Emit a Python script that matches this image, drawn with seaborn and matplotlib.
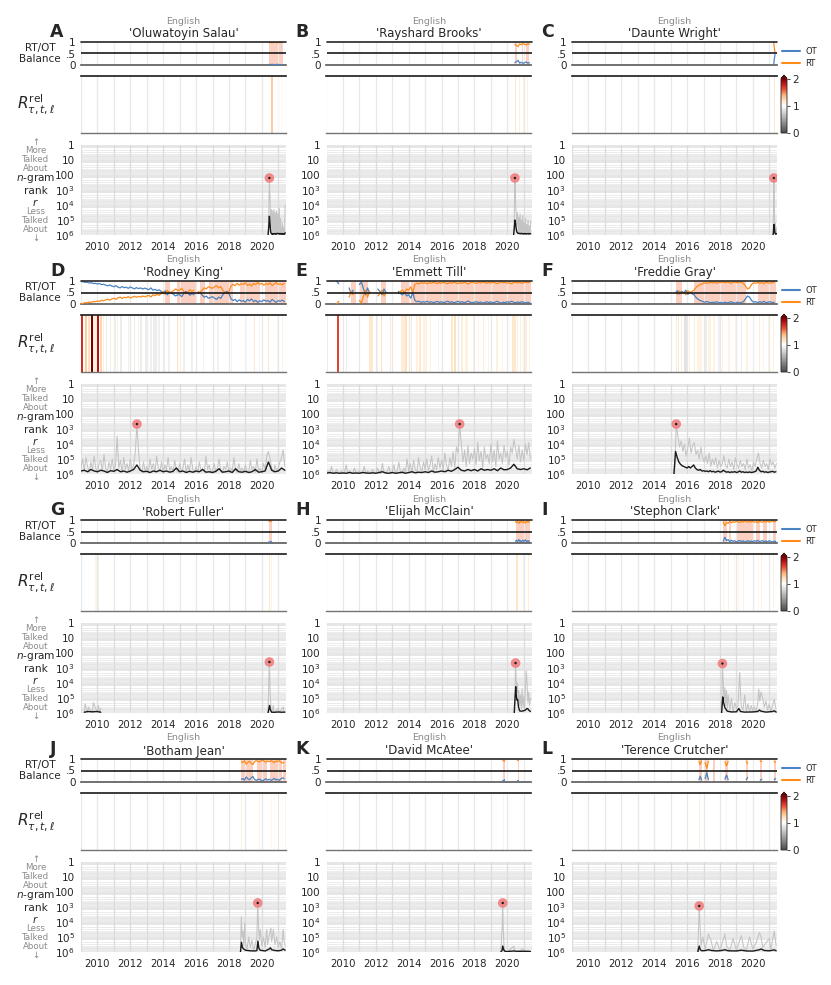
# %% ---- Requirements and constants
import numpy as np
import seaborn as sns
import matplotlib.pyplot as plt
from matplotlib.colors import LinearSegmentedColormap, Normalize
from matplotlib.cm import ScalarMappable
from matplotlib.lines import Line2D

nan = np.nan

names = ['Oluwatoyin Salau', 'Rayshard Brooks', 'Daunte Wright',
         'Rodney King', 'Emmett Till', 'Freddie Gray',
         'Robert Fuller', 'Elijah McClain', 'Stephon Clark',
         'Botham Jean', 'David McAtee', 'Terence Crutcher']
letters = list('ABCDEFGHIJKL')

# peak of the daily rank (red dot): date and log10 rank
peak_t = [2020.46, 2020.46, 2021.28, 2012.4, 2017.1, 2015.34,
          2020.46, 2020.50, 2018.15, 2019.75, 2019.72, 2016.74]
peak_r = [2.2, 2.2, 2.2, 2.67, 2.67, 2.67, 2.6, 2.67, 2.7, 2.73, 2.73, 2.93]

# daily rank (gray), log10 rank. time is (start, step) or explicit dates
gray_t = [
    (2020.38, 0.04), (2020.38, 0.04), (2021.22, 0.03),
    (2009.0, 0.1), (2009.0, 0.1), (2015.24, 0.1),
    [2009.2, 2009.25, 2009.4, 2009.45, 2009.7, 2009.75, 2010.0, 2010.05, 2010.15, 2010.2, nan,
     2020.38, 2020.42, 2020.46, 2020.5, 2020.55, 2020.6, 2020.7, 2020.75, 2021.0, 2021.05, 2021.3, 2021.35],
    [2020.42, 2020.47, 2020.5, 2020.54, 2020.58, 2020.62, 2020.66, 2020.7, 2020.75, 2020.8, 2020.85,
     2020.9, 2020.95, 2021.0, 2021.05, 2021.1, 2021.15, 2021.2, 2021.25, 2021.3, 2021.35, 2021.4],
    [2018.1, 2018.15, 2018.2, 2018.25, 2018.3, 2018.35, 2018.4, 2018.45, 2018.5, 2018.6,
     2018.7, 2018.8, 2018.9, 2019.0, 2019.1, 2019.2, 2019.25, 2019.3, 2019.4, 2019.5,
     2019.6, 2019.7, 2019.8, 2019.9, 2020.0, 2020.1, 2020.2, 2020.3, 2020.36, 2020.42,
     2020.5, 2020.6, 2020.7, 2020.8, 2020.9, 2021.0, 2021.1, 2021.2, 2021.3, 2021.4],
    [2018.7, 2018.75, 2018.8, 2018.85, 2018.9, 2018.95, 2019.0, 2019.1, 2019.2, 2019.3,
     2019.4, 2019.5, 2019.6, 2019.7, 2019.75, 2019.8, 2019.85, 2019.9, 2020.0, 2020.1,
     2020.2, 2020.3, 2020.35, 2020.45, 2020.55, 2020.6, 2020.7, 2020.8, 2020.9, 2021.0,
     2021.1, 2021.2, 2021.3, 2021.35, 2021.42],
    [2019.6, 2019.68, 2019.72, 2019.76, 2019.82, 2020.0, 2020.4, 2020.45, 2020.5, 2021.0, 2021.05, 2021.1],
    [2016.65, 2016.74, 2016.8, 2016.85, 2016.95, 2017.1, 2017.3, 2017.45, 2017.6, 2017.8,
     2018.0, 2018.3, 2018.4, 2018.6, 2018.8, 2019.0, 2019.3, 2019.45, 2019.6, 2019.8,
     2020.0, 2020.2, 2020.4, 2020.5, 2020.6, 2020.8, 2021.0, 2021.1, 2021.3, 2021.42],
]
gray_r = [
    [6, 4.5, 2.2, 3.6, 5.5, 4.3, 5.9, 4.4, 5.8, 4.3, 6, 4.5, 5.9, 4.4, 6, 4.6, 5.8, 4.2, 6, 4.9,
     5.9, 6, 5.2, 6, 5.5, 6, 4.0],
    [6, 5.0, 2.2, 3.8, 4.6, 5.3, 4.5, 5.8, 4.8, 5.9, 4.6, 6, 5.0, 5.8, 4.7, 6, 5.2, 5.9, 4.9, 6,
     5.3, 5.8, 5.0, 6, 5.4, 5.9, 5.1],
    [6, 5.0, 2.2, 4.5, 5.8, 5.2, 6, 5.5],
    [5.6, 5.0, 5.8, 4.9, 5.5, 5.9, 5.2, 5.7, 4.8, 5.6,
     5.9, 5.3, 5.1, 5.8, 4.7, 5.6, 5.9, 5.2, 5.7, 5.0,
     5.8, 5.4, 3.5, 5.6, 5.1, 5.9, 4.9, 5.7, 5.3, 5.8,
     5.0, 5.7, 5.4, 4.6, 2.67, 4.5, 5.6, 5.9, 5.2, 5.8,
     5.5, 5.9, 5.0, 5.7, 5.3, 5.9, 4.8, 5.6, 5.8, 5.2,
     5.9, 5.4, 5.7, 4.9, 5.8, 5.5, 5.9, 5.1, 5.7, 5.9,
     5.3, 5.8, 5.6, 5.0, 5.9, 5.4, 5.8, 4.9, 5.7, 5.9,
     5.5, 5.9, 5.2, 5.8, 5.6, 5.9, 4.8, 5.7, 5.4, 5.9,
     5.8, 5.3, 5.9, 5.6, 5.0, 5.8, 5.9, 5.5, 5.7, 5.2,
     5.9, 5.6, 5.8, 4.9, 5.7, 5.9, 5.3, 5.8, 5.6, 5.9,
     5.4, 5.8, 5.9, 5.1, 5.7, 5.5, 5.9, 5.0, 5.8, 5.6,
     5.9, 5.3, 5.7, 4.8, 4.5, 5.0, 5.6, 5.9, 5.4, 5.8,
     5.6, 5.2, 4.9, 4.4, 5.5],
    [5.9, 5.8, 6.0, 5.5, 5.9, 6.0, 5.7, 5.9, 6.0, 5.8,
     6.0, 5.9, 5.4, 6.0, 5.8, 5.9, 6.0, 5.6, 5.9, 6.0,
     5.8, 6.0, 5.9, 5.5, 6.0, 5.8, 5.9, 6.0, 5.7, 5.9,
     6.0, 5.6, 5.9, 6.0, 5.3, 5.9, 6.0, 5.8, 5.5, 6.0,
     5.9, 5.4, 6.0, 5.8, 5.2, 5.9, 6.0, 5.6, 5.9, 5.0,
     5.8, 5.3, 5.9, 5.1, 5.7, 5.9, 4.9, 5.6, 5.8, 5.2,
     5.7, 5.0, 5.8, 5.4, 4.8, 5.9, 5.3, 5.7, 4.9, 5.6,
     5.1, 5.7, 4.6, 5.4, 5.8, 4.9, 5.5, 4.5, 5.6, 4.2,
     4.6, 2.67, 4.0, 5.2, 4.4, 5.5, 4.1, 5.3, 4.6, 5.0,
     4.3, 5.4, 3.9, 5.1, 4.5, 5.6, 4.2, 5.0, 4.7, 5.3,
     4.0, 5.2, 4.4, 5.5, 3.8, 5.0, 4.6, 5.3, 4.1, 4.9,
     4.5, 5.4, 4.2, 4.6, 3.7, 4.3, 5.0, 4.1, 5.2, 4.4,
     5.1, 4.0, 4.7, 3.9, 5.0],
    [6.0, 2.67, 3.5, 4.2, 3.8, 4.5, 4.0, 4.8, 4.3, 3.6,
     4.6, 4.1, 3.9, 4.7, 4.4, 5.0, 4.2, 4.9, 5.2, 4.8,
     5.3, 4.6, 5.5, 5.0, 5.4, 4.9, 5.6, 5.1, 5.5, 5.3,
     4.8, 5.4, 5.6, 5.0, 5.5, 5.2, 5.7, 4.9, 5.4, 5.6,
     5.1, 5.5, 5.3, 5.7, 5.0, 5.6, 5.4, 5.8, 5.2, 5.5,
     5.0, 4.6, 5.3, 5.6, 5.1, 5.5, 5.3, 5.7, 5.0, 5.4,
     5.2, 5.6, 5.3],
    [6, 5.4, 6, 5.6, 6, 5.3, 6, 5.5, 6, 5.7, nan,
     6, 4.0, 2.6, 4.5, 5.6, 6, 5.5, 6, 5.7, 6, 5.6, 6],
    [6, 4.5, 2.67, 3.8, 4.6, 4.0, 5.2, 4.5, 5.5, 4.8, 5.7, 4.4, 5.6, 4.9, 5.8, 4.2, 3.2, 4.0,
     5.3, 4.6, 5.5, 5.0],
    [6, 2.7, 4.0, 5.2, 4.3, 5.5, 4.5, 5.7, 4.8, 5.8, 5.0, 5.9, 5.3, 5.7, 5.5, 3.3, 4.6, 5.6, 5.8, 4.8,
     5.9, 5.4, 5.9, 5.5, 5.9, 5.6, 5.9, 5.3, 4.4, 5.2, 4.6, 5.0, 5.6, 5.2, 5.8, 5.4, 5.9, 5.5, 5.1, 5.7],
    [6, 3.64, 5.0, 4.6, 5.6, 4.04, 5.4, 5.8, 5.0, 5.7, 5.2, 5.9, 5.5, 5.0, 2.73, 4.3, 5.2, 4.5, 5.6, 5.0,
     5.7, 4.5, 5.5, 4.9, 4.4, 5.3, 4.5, 5.5, 5.0, 5.7, 5.3, 5.8, 4.5, 5.2, 5.6],
    [6, 4.5, 2.73, 4.8, 6, 6, 5.6, 6, 6, 5.8, 6, 6],
    [6, 2.93, 4.5, 5.6, 5.0, 5.8, 4.8, 5.2, 5.9, 5.3, 5.9, 4.8, 5.6, 5.9, 5.1, 5.9, 4.9, 5.7, 5.9, 5.0,
     5.8, 5.4, 4.7, 5.0, 5.7, 5.4, 5.1, 5.8, 4.6, 5.6],
]

# smoothed rank (black), log10 rank
black_t = [
    (2020.38, 0.04), (2020.38, 0.04), (2021.22, 0.03),
    (2009.0, 0.2), (2009.0, 0.2), (2015.2, 0.1),
    [2009.2, 2009.4, 2009.7, 2010.0, 2010.2, nan, 2020.38, 2020.43, 2020.47, 2020.52, 2020.6,
     2020.8, 2021.0, 2021.2, 2021.4],
    [2020.42, 2020.47, 2020.51, 2020.55, 2020.59, 2020.63, 2020.68, 2020.75, 2020.85, 2021.0,
     2021.1, 2021.2, 2021.25, 2021.3, 2021.4],
    [2018.1, 2018.17, 2018.22, 2018.3, 2018.45, 2018.7, 2019.0, 2019.15, 2019.25, 2019.5,
     2020.0, 2020.3, 2020.4, 2020.5, 2020.8, 2021.2, 2021.3, 2021.42],
    [2018.7, 2018.76, 2018.82, 2018.9, 2019.0, 2019.3, 2019.6, 2019.7, 2019.76, 2019.82,
     2019.9, 2020.2, 2020.45, 2020.52, 2020.6, 2020.8, 2021.0, 2021.2, 2021.3, 2021.42],
    [2019.6, 2019.68, 2019.72, 2019.78, 2019.85, 2020.0, 2020.4, 2020.6, 2021.0, 2021.4],
    [2016.65, 2016.74, 2016.8, 2016.9, 2017.1, 2017.3, 2017.5, 2017.8, 2018.1, 2018.3,
     2018.5, 2019.0, 2019.3, 2019.6, 2020.0, 2020.4, 2020.5, 2020.7, 2021.0, 2021.3, 2021.42],
]
black_r = [
    [6, 5.5, 4.75, 5.3, 5.8, 5.9, 5.95, 5.9, 5.95, 5.9, 5.92, 5.9, 5.95, 5.92, 5.9, 5.88, 5.92,
     5.9, 5.95, 5.9, 5.92, 5.95, 5.9, 5.95, 5.93, 5.95, 5.85],
    [6, 5.6, 5.0, 5.2, 5.6, 5.8, 5.85, 5.9, 5.88, 5.9, 5.92, 5.9, 5.88, 5.92, 5.9, 5.93, 5.9,
     5.92, 5.9, 5.93, 5.9, 5.92, 5.9, 5.93, 5.92, 5.9, 5.92],
    [6, 5.9, 5.3, 5.5, 5.85, 5.9, 5.95, 5.9],
    [5.8, 5.75, 5.85, 5.7, 5.8, 5.85, 5.75, 5.8, 5.9, 5.78, 5.82, 5.7, 5.85, 5.8, 5.88,
     5.8, 5.7, 5.4, 5.75, 5.85, 5.82, 5.9, 5.8, 5.85, 5.75, 5.85, 5.8, 5.88, 5.82, 5.6,
     5.85, 5.8, 5.9, 5.82, 5.88, 5.8, 5.85, 5.7, 5.88, 5.85, 5.9, 5.82, 5.65, 5.88, 5.85,
     5.8, 5.9, 5.65, 5.85, 5.88, 5.82, 5.9, 5.85, 5.7, 5.88, 5.85, 5.8, 5.2, 5.75, 5.85,
     5.8, 5.6, 5.75],
    [5.95, 5.9, 5.95, 5.92, 5.95, 5.93, 5.95, 5.9, 5.95, 5.93, 5.95, 5.9, 5.93, 5.95, 5.92,
     5.95, 5.9, 5.85, 5.93, 5.95, 5.9, 5.95, 5.92, 5.88, 5.95, 5.9, 5.85, 5.92, 5.88, 5.9,
     5.85, 5.9, 5.8, 5.88, 5.85, 5.8, 5.85, 5.75, 5.82, 5.7, 5.55, 5.75, 5.8, 5.7, 5.78,
     5.7, 5.8, 5.65, 5.75, 5.7, 5.75, 5.65, 5.78, 5.6, 5.72, 5.7, 5.6, 5.35, 5.65, 5.7,
     5.65, 5.72, 5.6],
    [6.0, 4.5, 4.9, 5.2, 5.35, 5.45, 5.5, 5.55, 5.6, 5.5,
     5.6, 5.5, 5.4, 5.6, 5.7, 5.75, 5.7, 5.8, 5.78, 5.82,
     5.8, 5.85, 5.78, 5.85, 5.82, 5.88, 5.85, 5.8, 5.87, 5.85,
     5.75, 5.82, 5.88, 5.85, 5.9, 5.86, 5.88, 5.84, 5.9, 5.87,
     5.8, 5.88, 5.85, 5.9, 5.87, 5.9, 5.86, 5.9, 5.88, 5.85,
     5.8, 5.55, 5.75, 5.85, 5.82, 5.88, 5.85, 5.9, 5.87, 5.85,
     5.82, 5.88, 5.85],
    [5.95, 5.9, 5.92, 5.9, 5.95, nan, 6, 5.7, 5.5, 5.8, 5.95, 5.95, 5.93, 5.95, 5.94],
    [6, 5.0, 4.25, 4.9, 5.15, 5.1, 5.6, 5.86, 5.88, 5.85, 5.8, 5.7, 5.72, 5.8, 5.9],
    [6, 4.93, 5.3, 5.64, 5.88, 5.93, 5.92, 5.7, 5.9, 5.94, 5.93, 5.9, 5.8, 5.88, 5.94, 5.9, 5.85, 5.94],
    [6, 5.35, 5.7, 5.8, 5.88, 5.92, 5.93, 5.9, 5.27, 5.75, 5.88, 5.93, 5.8, 5.72, 5.85, 5.9, 5.92,
     5.88, 5.8, 5.88],
    [6, 5.9, 5.6, 5.85, 5.95, 5.97, 5.93, 5.96, 5.95, 5.96],
    [6, 5.6, 5.85, 5.92, 5.9, 5.85, 5.9, 5.93, 5.9, 5.85, 5.92, 5.93, 5.88, 5.93, 5.94, 5.85, 5.8,
     5.9, 5.92, 5.86, 5.92],
]

# share of retweets (RT); organic tweets OT = 1 - RT
bal_t = [
    (2020.45, 0.1), (2020.45, 0.1), [2021.27, 2021.31, 2021.35],
    (2009.0, 0.125), (2009.0, 0.125), (2015.3, 0.125),
    [2020.42, 2020.48, 2020.55, 2020.6], (2020.5, 0.05), (2018.2, 0.1),
    (2018.75, 0.1), [2019.72, 2019.78, 2019.84, nan, 2020.62, 2020.68],
    [2016.72, 2016.8, 2016.88, nan, 2017.1, 2017.2, 2017.3, nan, 2018.3, 2018.4, 2018.5, nan,
     2019.6, 2019.68, nan, 2020.45, 2020.55, nan, 2021.3, 2021.38],
]
bal_rt = [
    [0.97, 0.98, 0.97, 0.99, 0.98, 0.97, 0.98, 0.99, 0.98],
    [0.9, 0.85, 0.8, 0.92, 0.88, 0.93, 0.9, 0.87, 0.92, 0.9],
    [0.98, 0.72, 0.54],
    [0.02, 0.03, 0.06, 0.05, 0.09, 0.07, 0.11, 0.1,
     0.13, 0.11, 0.16, 0.14, 0.18, 0.21, 0.17, 0.22,
     0.25, 0.2, 0.27, 0.3, 0.24, 0.29, 0.27, 0.32,
     0.26, 0.3, 0.34, 0.29, 0.33, 0.3, 0.35, 0.31,
     0.34, 0.38, 0.3, 0.4, 0.36, 0.42, 0.38, 0.45,
     0.55, 0.42, 0.6, 0.48, 0.52, 0.58, 0.65, 0.6,
     0.6, 0.68, 0.55, 0.45, 0.52, 0.62, 0.55, 0.6,
     nan, 0.55, 0.48, 0.62, 0.7, 0.66, 0.75, 0.72,
     0.68, 0.75, 0.8, 0.7, 0.76, 0.6, 0.5, 0.45,
     0.55, 0.78, 0.85, 0.8, 0.9, 0.82, 0.88, 0.85,
     0.92, 0.8, 0.86, 0.78, 0.9, 0.84, 0.93, 0.86,
     0.9, 0.82, 0.88, 0.85, 0.92, 0.8, 0.87, 0.93,
     0.85, 0.88, 0.83, 0.9],
    [nan, nan, nan, nan, nan, 0.02, 0.12, nan,
     nan, nan, nan, 0.3, 0.55, 0.4, nan, nan,
     0.15, 0.05, 0.35, 0.6, 0.3, 0.55, nan, nan,
     nan, 0.35, 0.45, 0.6, 0.35, 0.5, nan, nan,
     nan, nan, nan, 0.45, 0.55, 0.6, 0.5, 0.65,
     0.6, 0.75, 0.5, 0.85, 0.9, 0.88, 0.93, 0.9,
     0.92, 0.88, 0.93, 0.9, 0.95, 0.91, 0.89, 0.93,
     0.9, 0.94, 0.91, 0.88, 0.93, 0.9, 0.95, 0.92,
     0.88, 0.93, 0.9, 0.94, 0.91, 0.87, 0.93, 0.95,
     0.92, 0.9, 0.94, 0.91, 0.96, 0.93, 0.9, 0.94,
     0.91, 0.95, 0.92, 0.88, 0.93, 0.96, 0.92, 0.94,
     0.9, 0.93, 0.88, 0.92, 0.95, 0.91, 0.94, 0.9,
     0.93, 0.95, 0.92, 0.96],
    [0.5, 0.42, 0.56, 0.45, 0.52, 0.4, 0.58, 0.48,
     0.55, 0.6, 0.72, 0.8, 0.85, 0.88, 0.92, 0.9,
     0.91, 0.95, 0.92, 0.94, 0.9, 0.95, 0.93, 0.96,
     0.92, 0.95, 0.93, 0.9, 0.94, 0.96, 0.92, 0.95,
     0.93, 0.9, 0.78, 0.65, 0.7, 0.85, 0.92, 0.9,
     0.94, 0.9, 0.93, 0.88, 0.95, 0.92, 0.9, 0.94,
     0.92],
    [0.95, 0.97, 0.93, 0.96],
    [0.92, 0.88, 0.94, 0.9, 0.85, 0.93, 0.9, 0.95, 0.91, 0.88, 0.93, 0.9, 0.86, 0.92, 0.95, 0.9,
     0.93, 0.91],
    [0.92, 0.75, 0.9, 0.85, 0.95, 0.88, 0.93, 0.9, 0.95, 0.92, 0.89, 0.94, 0.9, 0.96, 0.93, 0.9,
     0.94, 0.91, 0.95, 0.9, 0.93, 0.88, 0.95, 0.92, 0.9, 0.94, 0.91, 0.95, 0.9, 0.93, 0.96, 0.92,
     0.94],
    [0.88, 0.85, 0.92, 0.78, 0.86, 0.9, 0.82, 0.76, 0.88, 0.93, 0.9, 0.87, 0.92, 0.95, 0.9, 0.86,
     0.92, 0.88, 0.93, 0.9, 0.84, 0.91, 0.88, 0.93, 0.87, 0.82, 0.85],
    [0.92, 0.96, 0.9, nan, 0.93, 0.95],
    [0.9, 0.75, 0.92, nan, 0.85, 0.6, 0.9, nan, 0.88, 0.7, 0.9, nan, 0.9, 0.8, nan, 0.92, 0.88,
     nan, 0.9, 0.85],
]

# periods where retweets dominate (shaded)
shade = [
    [(2020.45, 2021.3)],
    [(2020.45, 2020.58), (2020.68, 2020.74), (2020.88, 2020.98), (2021.12, 2021.3)],
    [],
    [(2014.12, 2014.43), (2014.83, 2016.05), (2016.25, 2016.56), (2016.76, 2018.27),
     (2018.7, 2019.9), (2020.22, 2021.47)],
    [(2010.5, 2010.8), (2011.05, 2011.5), (2012.33, 2012.64), (2013.55, 2014.06), (2014.16, 2021.47)],
    [(2015.3, 2015.7), (2016.44, 2019.6), (2020.3, 2021.4)],
    [(2020.42, 2020.6)],
    [(2020.5, 2021.35)],
    [(2018.2, 2018.45), (2018.55, 2018.7), (2018.95, 2020.05), (2020.2, 2020.45),
     (2020.6, 2020.85), (2021.25, 2021.42)],
    [(2018.74, 2019.45), (2019.71, 2020.32), (2020.48, 2021.24), (2021.3, 2021.45)],
    [(2019.72, 2019.84), (2020.62, 2020.68)],
    [(2016.72, 2016.88), (2017.1, 2017.3), (2017.6, 2017.68), (2018.3, 2018.5),
     (2019.6, 2019.68), (2020.45, 2020.55), (2021.3, 2021.38)],
]

# relative social amplification R^rel strips: (start, end, value)
rrel = [
    [(2020.55, 2020.7, 1.3), (2020.97, 2021.03, 1.05), (2021.14, 2021.2, 1.05)],
    [(2020.47, 2020.53, 1.15), (2020.7, 2020.75, 1.1), (2020.95, 2021.0, 1.1), (2021.2, 2021.25, 1.1)],
    [(2021.28, 2021.33, 1.15)],
    [(2009.02, 2009.14, 1.72), (2009.22, 2009.38, 1.3), (2009.45, 2009.56, 1.2),
     (2009.58, 2009.72, 2.0), (2009.73, 2009.95, 1.1), (2009.95, 2010.1, 1.85),
     (2010.15, 2010.27, 1.25), (2010.35, 2010.42, 1.1), (2010.5, 2010.6, 0.9),
     (2010.75, 2010.85, 0.92), (2011.0, 2011.1, 0.9), (2011.2, 2011.26, 1.1),
     (2011.35, 2011.5, 0.9), (2011.85, 2011.95, 0.92), (2012.2, 2012.3, 0.9),
     (2012.45, 2012.51, 1.1), (2012.6, 2012.7, 0.9), (2012.9, 2013.05, 0.9),
     (2013.2, 2013.3, 0.92), (2013.4, 2013.6, 0.9), (2013.7, 2013.8, 0.92),
     (2014.0, 2014.1, 0.9), (2014.3, 2014.4, 0.92), (2014.85, 2014.93, 1.2),
     (2015.0, 2015.06, 1.1), (2015.2, 2015.3, 0.92), (2015.7, 2015.8, 0.92),
     (2016.4, 2016.5, 0.93), (2017.3, 2017.4, 0.93), (2018.1, 2018.2, 0.94),
     (2019.0, 2019.1, 0.94), (2019.5, 2019.56, 1.15), (2019.8, 2019.9, 0.94),
     (2020.4, 2020.46, 1.15), (2020.9, 2021.0, 0.94), (2021.2, 2021.26, 1.1)],
    [(2009.05, 2009.1, 0.9), (2009.64, 2009.74, 1.65), (2010.2, 2010.25, 0.9),
     (2011.6, 2011.8, 1.15), (2012.1, 2012.15, 0.92), (2012.3, 2012.36, 1.2),
     (2012.85, 2012.91, 1.15), (2013.55, 2013.75, 1.12), (2013.8, 2013.9, 1.2),
     (2014.15, 2014.21, 1.15), (2014.45, 2014.55, 1.1), (2014.65, 2014.75, 1.15),
     (2014.9, 2015.1, 1.1), (2015.3, 2015.36, 1.1), (2015.8, 2015.86, 1.08),
     (2016.6, 2016.7, 1.15), (2016.75, 2016.85, 1.2), (2017.2, 2017.3, 1.12),
     (2017.4, 2017.6, 1.1), (2017.9, 2018.0, 1.1), (2018.2, 2018.3, 1.08),
     (2018.55, 2018.61, 1.12), (2018.8, 2018.86, 1.08), (2019.3, 2019.45, 1.1),
     (2019.7, 2019.76, 1.08), (2019.95, 2020.01, 1.12), (2020.3, 2020.5, 1.15),
     (2020.6, 2020.66, 1.1), (2020.75, 2020.85, 1.1), (2020.95, 2021.01, 1.08),
     (2021.1, 2021.2, 1.12), (2021.3, 2021.4, 1.1)],
    [(2015.3, 2015.4, 1.15), (2015.45, 2015.5, 0.88), (2015.6, 2015.7, 1.1),
     (2015.8, 2016.0, 0.85), (2016.1, 2016.2, 1.1), (2016.4, 2016.5, 1.12),
     (2016.6, 2016.9, 1.08), (2017.1, 2017.2, 0.9), (2017.3, 2017.45, 1.1),
     (2017.6, 2017.7, 1.08), (2017.9, 2018.0, 0.92), (2018.1, 2018.2, 1.1),
     (2018.5, 2018.6, 1.08), (2018.9, 2019.0, 1.1), (2019.3, 2019.36, 0.9),
     (2019.6, 2019.7, 1.1), (2020.0, 2020.1, 0.9), (2020.35, 2020.45, 1.12),
     (2020.6, 2020.7, 1.08), (2020.9, 2021.0, 1.1), (2021.2, 2021.3, 1.1)],
    [(2009.85, 2009.95, 1.08), (2010.05, 2010.11, 0.92), (2020.42, 2020.48, 1.15), (2020.55, 2020.6, 1.08)],
    [(2020.52, 2020.58, 1.18), (2020.6, 2020.66, 1.15), (2020.95, 2021.0, 1.1), (2021.28, 2021.34, 1.12)],
    [(2018.2, 2018.26, 1.08), (2018.5, 2018.56, 1.1), (2018.85, 2018.9, 1.06), (2019.1, 2019.16, 1.1),
     (2019.4, 2019.46, 1.08), (2020.3, 2020.35, 1.06), (2020.5, 2020.56, 1.1), (2020.65, 2020.7, 1.06),
     (2021.2, 2021.26, 1.08)],
    [(2018.75, 2018.81, 1.08), (2019.8, 2019.86, 1.1), (2020.55, 2020.6, 1.06), (2020.75, 2020.8, 1.05),
     (2021.38, 2021.44, 1.08)],
    [(2019.72, 2019.78, 1.08), (2020.62, 2020.67, 1.05)],
    [(2016.72, 2016.78, 1.1), (2017.25, 2017.3, 1.06), (2018.35, 2018.4, 1.08), (2019.6, 2019.65, 1.05),
     (2020.5, 2020.55, 1.06), (2021.3, 2021.35, 1.05)],
]

years = list(range(2009, 2022))
rank_ticks = [1, 10, 100, 1e3, 1e4, 1e5, 1e6]
rank_labels = ['1', '10', '100', '$10^3$', '$10^4$', '$10^5$', '$10^6$']

FIG_W, FIG_H = 831, 985
XLIM = (2009.0, 2021.47)
OT_C, RT_C = '#4a83c2', '#ff8c1a'
SHADE_C = '#fbd0c1'
cmap = LinearSegmentedColormap.from_list('rrel', [
    (0.0, '#4a4a4a'), (0.5, '#ffffff'), (0.6, '#fee2c0'), (0.7, '#fcb57a'),
    (0.8, '#e8553c'), (0.9, '#c21b1b'), (1.0, '#7a0000')])
norm = Normalize(0, 2)


# %% ---- Function and class
def box(x, y, w, h):
    return [x / FIG_W, 1 - (y + h) / FIG_H, w / FIG_W, h / FIG_H]


def times(spec, n):
    if isinstance(spec, tuple):
        return spec[0] + spec[1] * np.arange(n)
    return np.asarray(spec, dtype=float)


def lines(ax, t, v, **kw):
    # seaborn line per run of valid values, so that gaps stay open
    t = np.asarray(t, float)
    v = np.asarray(v, float)
    idx = np.flatnonzero(~(np.isnan(t) | np.isnan(v)))
    if idx.size == 0:
        return
    for seg in np.split(idx, np.flatnonzero(np.diff(idx) > 1) + 1):
        if seg.size < 2:
            continue
        sns.lineplot(x=t[seg], y=v[seg], ax=ax, estimator=None, sort=False,
                     legend=False, **kw)


def xaxis(ax, labels=False, grid='#e3e3e3'):
    ax.set_xlim(*XLIM)
    ax.set_xticks(years)
    ax.set_xticklabels([str(y) if (labels and y % 2 == 0) else '' for y in years])
    ax.tick_params(axis='x', length=3, width=0.7, color='0.3', labelsize=7.3, pad=2)
    for y in years:
        ax.axvline(y, color=grid, lw=0.9, zorder=0.5)


# %% ---- Play ground
sns.set_theme(context='paper', style='white')
plt.rcParams['font.family'] = ['DejaVu Sans']
plt.rcParams['mathtext.fontset'] = 'dejavusans'

fig = plt.figure(figsize=(FIG_W / 100, FIG_H / 100), dpi=100)

for i, name in enumerate(names):
    row, col = divmod(i, 3)
    T = 42 + 239 * row
    L = 81 + 245.5 * col
    W = 205

    fig.text((L + W / 2) / FIG_W, 1 - (T - 21) / FIG_H, 'English', color='#8a8a8a',
             fontsize=6.8, ha='center', va='center')
    fig.text((L + W / 2) / FIG_W, 1 - (T - 8) / FIG_H, f"'{name}'",
             fontsize=8.5, ha='center', va='center')
    fig.text((L - 31) / FIG_W, 1 - (T - 10) / FIG_H, letters[i], fontsize=12.5,
             fontweight='bold', ha='left', va='center')

    # RT/OT balance
    ax_b = fig.add_axes(box(L, T, W, 23))
    for a, b in shade[i]:
        ax_b.axvspan(a, b, color=SHADE_C, lw=0, zorder=0)
    xaxis(ax_b, grid='#ececec')
    tb = times(bal_t[i], len(bal_rt[i]))
    rt = np.asarray(bal_rt[i], float)
    lines(ax_b, tb, 1 - rt, color=OT_C, linewidth=0.9, zorder=3)
    lines(ax_b, tb, rt, color=RT_C, linewidth=0.9, zorder=3)
    ax_b.axhline(1, color='0.15', lw=1.2, clip_on=False, zorder=4)
    ax_b.axhline(0.5, color='0.1', lw=1.2, zorder=4)
    ax_b.set_ylim(0, 1)
    ax_b.set_yticks([0, 0.5, 1])
    ax_b.set_yticklabels(['0', '.5', '1'])
    ax_b.tick_params(axis='y', length=2.5, width=0.7, labelsize=7.5, pad=1.5)
    for s in ['top', 'left', 'right']:
        ax_b.spines[s].set_visible(False)
    ax_b.spines['bottom'].set_color('0.35')
    ax_b.spines['bottom'].set_linewidth(1.2)

    # relative amplification strips
    ax_r = fig.add_axes(box(L, T + 34, W, 57))
    xaxis(ax_r, grid='#e8e8e8')
    for a, b, v in rrel[i]:
        ax_r.axvspan(a, b, color=cmap(norm(v)), lw=0, zorder=1)
    ax_r.set_yticks([])
    for s in ['left', 'right']:
        ax_r.spines[s].set_visible(False)
    ax_r.spines['top'].set_color('0.1')
    ax_r.spines['top'].set_linewidth(1.2)
    ax_r.spines['bottom'].set_color('0.45')
    ax_r.spines['bottom'].set_linewidth(1.0)

    # n-gram rank
    ax_n = fig.add_axes(box(L, T + 103, W, 90))
    ax_n.set_yscale('log')
    for k in range(7):
        ax_n.axhspan(10 ** (k - 0.25), 10 ** (k + 0.22), color='#e6e6e6', lw=0, zorder=0)
    for k in range(6):
        for m in range(2, 10):
            ax_n.axhline(m * 10 ** k, color='#ececec', lw=0.7, zorder=0.2)
    xaxis(ax_n, labels=True, grid='#dcdcdc')
    tg = times(gray_t[i], len(gray_r[i]))
    lines(ax_n, tg, 10 ** np.asarray(gray_r[i], float), color='#c4c4c4', linewidth=0.75, zorder=2)
    tk = times(black_t[i], len(black_r[i]))
    lines(ax_n, tk, 10 ** np.asarray(black_r[i], float), color='k', linewidth=1.0, zorder=3)
    sns.scatterplot(x=[peak_t[i]], y=[10 ** peak_r[i]], ax=ax_n, s=48, color='#f07f80',
                    alpha=0.9, edgecolor='none', zorder=5, legend=False)
    sns.scatterplot(x=[peak_t[i]], y=[10 ** peak_r[i]], ax=ax_n, s=3, color='k',
                    edgecolor='none', zorder=6, legend=False)
    ax_n.set_ylim(1e6, 1)
    ax_n.set_yticks(rank_ticks)
    ax_n.set_yticklabels(rank_labels)
    ax_n.set_yticks([m * 10 ** k for k in range(6) for m in range(2, 10)], minor=True)
    ax_n.tick_params(axis='y', which='major', length=3, width=0.7, labelsize=7.5, pad=1.5)
    ax_n.tick_params(axis='y', which='minor', length=2, width=0.5)
    ax_n.set_xlabel('')
    ax_n.set_ylabel('')
    for s in ax_n.spines.values():
        s.set_visible(False)

    if col == 0:
        ax_b.text(-0.2, 0.5, 'RT/OT\nBalance', transform=ax_b.transAxes, ha='center',
                  va='center', fontsize=7.5, linespacing=1.1)
        ax_r.text(-0.22, 0.5, r'$R^{\rm rel}_{\tau,t,\ell}$', transform=ax_r.transAxes,
                  ha='center', va='center', fontsize=11)
        ax_n.text(-0.22, 0.885, '↑\nMore\nTalked\nAbout', transform=ax_n.transAxes,
                  ha='center', va='center', fontsize=6.2, color='#8a8a8a', linespacing=0.98)
        ax_n.text(-0.22, 0.5, '$n$-gram\nrank\n$r$', transform=ax_n.transAxes,
                  ha='center', va='center', fontsize=7.6, linespacing=1.12)
        ax_n.text(-0.22, 0.11, 'Less\nTalked\nAbout\n↓', transform=ax_n.transAxes,
                  ha='center', va='center', fontsize=6.2, color='#8a8a8a', linespacing=0.98)

    if col == 2:
        handles = [Line2D([], [], color=OT_C, lw=1.5), Line2D([], [], color=RT_C, lw=1.5)]
        ax_b.legend(handles, ['OT', 'RT'], loc='upper left', bbox_to_anchor=(1.0, 1.0),
                    frameon=False, fontsize=6, handlelength=2.2, handletextpad=0.6,
                    borderaxespad=0.2, labelspacing=0.35)
        cax = fig.add_axes(box(L + W + 4, T + 33, 6, 58))
        cb = fig.colorbar(ScalarMappable(norm=norm, cmap=cmap), cax=cax, extend='max',
                          extendfrac=0.07)
        cb.set_ticks([0, 1, 2])
        cb.ax.tick_params(labelsize=7.5, length=2.5, width=0.6, pad=1.5)
        cb.outline.set_linewidth(0.6)

fig.savefig('out.png', dpi=100)
